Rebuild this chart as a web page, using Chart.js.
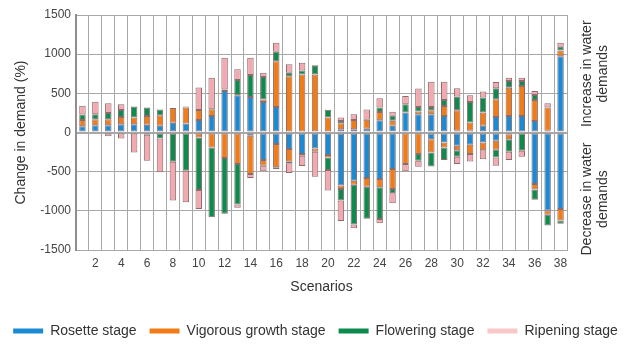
<!DOCTYPE html>
<html>
<head>
<meta charset="utf-8">
<script src="https://cdn.jsdelivr.net/npm/chart.js@4.4.0/dist/chart.umd.min.js"></script>
<style>
  html, body { margin: 0; padding: 0; background: #fff; }
  #wrap { width: 631px; height: 351px; }
</style>
</head>
<body>
<div id="wrap"><canvas id="chart"></canvas></div>
<script>
// scenario numbers 1..38
const scenarios = ['1','2','3','4','5','6','7','8','9','10','11','12','13','14','15','16','17','18','19',
  '20','21','22','23','24','25','26','27','28','29','30','31','32','33','34','35','36','37','38'];
const stages = ['Rosette stage', 'Vigorous growth stage', 'Flowering stage', 'Ripening stage'];

// increases (above zero)
const rosettePos   = [80, 93, 93, 106, 106, 98, 85, 123, 115, 161, 212, 530, 475, 454, 390, 326, 0, 0, 0, 0,
  42, 42, 47, 157, 85, 254, 233, 233, 212, 21, 21, 85, 199, 212, 212, 148, 21, 975];
const vigorousPos  = [80, 76, 76, 93, 85, 114, 136, 191, 204, 127, 85, 0, 0, 0, 30, 585, 717, 742, 742, 191,
  76, 119, 115, 106, 64, 0, 34, 51, 127, 263, 106, 170, 225, 360, 382, 267, 297, 72];
const floweringPos = [70, 64, 80, 89, 140, 106, 72, 0, 0, 0, 0, 20, 195, 280, 288, 119, 47, 51, 115, 98,
  30, 0, 0, 55, 64, 106, 59, 42, 76, 174, 263, 191, 140, 85, 64, 64, 0, 47];
const ripeningPos  = [110, 160, 123, 72, 0, 0, 0, 0, 13, 288, 403, 403, 136, 220, 55, 115, 106, 98, 0, 0,
  42, 72, 131, 119, 51, 106, 237, 322, 233, 106, 85, 76, 81, 42, 42, 51, 55, 51];

// decreases (below zero)
const rosetteNeg   = [0, 0, 0, 0, 0, -30, 0, 0, 0, 0, 0, 0, 0, -40, -352, -148, -212, -276, -204, -288,
  -678, -615, -581, -594, -466, 0, 0, -85, -127, -170, -157, -127, -106, -21, 0, -657, -996, -975];
const vigorousNeg  = [0, 0, 0, 0, 0, 0, 0, 0, 0, -64, -191, -326, -403, -490, -72, -297, -161, 0, -42, -30,
  -42, -51, -110, -106, -254, -403, -276, -170, -64, -55, -119, -98, -115, -64, 0, -72, -55, -148];
const floweringNeg = [0, 0, 0, 0, 0, 0, -76, -373, -488, -670, -890, -712, -517, 0, 0, -21, -21, -21, 0, -161,
  -148, -509, -411, -403, -55, 0, -85, -178, -161, -85, 0, 0, -98, -161, -233, -131, -136, -42];
const ripeningNeg  = [0, 0, -47, -76, -254, -330, -432, -496, -403, -242, 0, 0, -42, -50, -72, 0, -123, -131, -318, -263,
  -263, -47, 0, -55, -127, -93, -76, 0, 0, -93, -93, -115, -106, -106, -76, 0, 0, 0];

const barColors = ['#1a8ad4', '#f07b17', '#0f8a4f', '#f3a9b0'];
const legendColors = ['#1a8ad4', '#f07b17', '#0f8a4f', '#f8c8c8'];

Chart.defaults.font.family = '"Liberation Sans", Arial, sans-serif';
Chart.defaults.color = '#444';

function series(label, values, color) {
  return {
    label: label,
    data: values.map(v => v === 0 ? null : v),
    backgroundColor: color,
    borderColor: '#8a6c6c',
    borderWidth: 1,
    borderSkipped: false,
    stack: 'all',
    barPercentage: 0.5,
    categoryPercentage: 1
  };
}

const sideText = {
  id: 'sideText',
  afterDraw(chart) {
    const { ctx, chartArea, scales } = chart;
    const draw = (lines, cy) => {
      ctx.save();
      ctx.translate(chartArea.right + 20, cy);
      ctx.rotate(-Math.PI / 2);
      ctx.fillStyle = '#333';
      ctx.font = '14px "Liberation Sans", Arial, sans-serif';
      ctx.textAlign = 'center';
      ctx.textBaseline = 'middle';
      lines.forEach((l, i) => ctx.fillText(l, 0, i * 16));
      ctx.restore();
    };
    draw(['Increase in water', 'demands'], scales.y.getPixelForValue(750));
    draw(['Decrease in water', 'demands'], scales.y.getPixelForValue(-850));
  }
};

new Chart(document.getElementById('chart'), {
  type: 'bar',
  data: {
    labels: scenarios,
    datasets: [
      series(stages[0], rosettePos, barColors[0]),
      series(stages[1], vigorousPos, barColors[1]),
      series(stages[2], floweringPos, barColors[2]),
      series(stages[3], ripeningPos, barColors[3]),
      series(stages[0], rosetteNeg, barColors[0]),
      series(stages[1], vigorousNeg, barColors[1]),
      series(stages[2], floweringNeg, barColors[2]),
      series(stages[3], ripeningNeg, barColors[3])
    ]
  },
  options: {
    responsive: true,
    maintainAspectRatio: false,
    animation: false,
    layout: { padding: { top: 15, left: 0, right: 0, bottom: 3 } },
    scales: {
      x: {
        stacked: true,
        offset: true,
        grid: { offset: true, color: '#a8a8a8', drawTicks: false },
        border: { color: '#a8a8a8' },
        ticks: {
          autoSkip: false, maxRotation: 0, padding: 6, font: { size: 12 },
          callback: (v, i) => (i % 2 === 1 ? scenarios[i] : '')
        },
        title: { display: true, text: 'Scenarios', color: '#333', font: { size: 14 }, padding: { top: 4, bottom: 15 } },
        afterFit: s => { s.height = 61; }
      },
      y: {
        stacked: true,
        min: -1500,
        max: 1500,
        ticks: { stepSize: 500, padding: 5, font: { size: 12 }, callback: v => String(v) },
        grid: {
          color: '#a8a8a8',
          drawTicks: false,
          lineWidth: c => (c.tick && c.tick.value === 0 ? 2 : 1)
        },
        border: { color: '#8f8f8f', width: 2 },
        title: { display: true, text: 'Change in demand (%)', color: '#333', font: { size: 14 }, padding: { top: 13, bottom: 0 } },
        afterFit: s => { s.width = 76; }
      },
      side: {
        position: 'right',
        display: true,
        grid: { display: false },
        ticks: { display: false },
        border: { display: false },
        afterFit: s => { s.width = 64; }
      }
    },
    plugins: {
      legend: {
        position: 'bottom',
        labels: {
          boxWidth: 30,
          boxHeight: 5,
          padding: 13,
          color: '#333',
          font: { size: 14 },
          generateLabels: () => stages.map((s, i) => ({
            text: s, fillStyle: legendColors[i], strokeStyle: legendColors[i],
            lineWidth: 0, datasetIndex: i, hidden: false, fontColor: '#333'
          }))
        },
        onClick: null
      },
      tooltip: { enabled: false }
    }
  },
  plugins: [sideText]
});
</script>
</body>
</html>
